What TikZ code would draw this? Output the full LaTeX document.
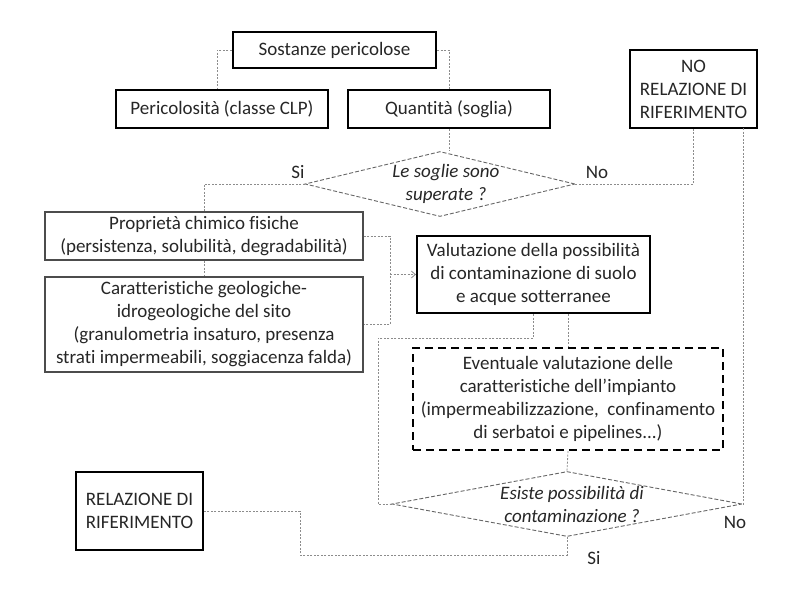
\documentclass[tikz,border=0pt]{standalone}
\usepackage{fontspec}
\setmainfont{Carlito}[Ligatures=NoCommon]
\usetikzlibrary{shapes.geometric,arrows.meta}
\begin{document}
\begin{tikzpicture}[x=1pt,y=-1pt,
  every node/.style={font=\fontsize{19}{23}\selectfont, text=black!85, align=center, inner sep=0pt},
  mainbox/.style={draw=black, line width=2.2pt, rectangle},
  greybox/.style={draw=black!70, line width=1.4pt, rectangle},
  dashbox/.style={draw=black, line width=2.2pt, rectangle, dash pattern=on 8pt off 5pt},
  dia/.style={draw=black!60, line width=0.9pt, diamond, dash pattern=on 4pt off 2pt},
  ditext/.style={font=\fontsize{19}{23}\selectfont\itshape},
  conn/.style={draw=black!45, line width=0.8pt, dash pattern=on 2pt off 1.5pt},
  lab/.style={font=\fontsize{19}{23}\selectfont}
]
\useasboundingbox (0,0) rectangle (800,590);

% boxes
\node[mainbox, minimum width=203pt, minimum height=36pt] (sost) at (334.5,50) {Sostanze pericolose};
\node[mainbox, minimum width=212pt, minimum height=38pt] (peric) at (222,109) {Pericolosità (classe CLP)};
\node[mainbox, minimum width=202pt, minimum height=38pt] (quant) at (449,109) {Quantità (soglia)};
\node[mainbox, minimum width=127pt, minimum height=78pt] (norel) at (693.5,89) {NO\\RELAZIONE DI\\RIFERIMENTO};
\node[dia, minimum width=270pt, minimum height=65pt] (d1) at (440,184) {};
\node[ditext] (d1t) at (446,184) {Le soglie sono\\superate ?};
\node[greybox, minimum width=318pt, minimum height=48pt] (prop) at (204,236) {Proprietà chimico fisiche\\(persistenza, solubilità, degradabilità)};
\node[greybox, minimum width=318pt, minimum height=95pt] (car) at (204,324.5) {Caratteristiche geologiche-\\idrogeologiche del sito\\(granulometria insaturo, presenza\\strati impermeabili, soggiacenza falda)};
\node[mainbox, minimum width=233pt, minimum height=77pt] (val) at (533.5,274.5) {Valutazione della possibilità\\di contaminazione di suolo\\e acque sotterranee};
\node[dashbox, minimum width=310pt, minimum height=102pt] (ev) at (568,399) {Eventuale valutazione delle\\caratteristiche dell’impianto\\(impermeabilizzazione,\ \ confinamento\\di serbatoi e pipelines...)};
\node[dia, minimum width=350pt, minimum height=65pt] (d2) at (567,504) {};
\node[ditext] (d2t) at (572,504) {Esiste possibilità di\\contaminazione ?};
\node[mainbox, minimum width=127pt, minimum height=78pt] (rel) at (139.5,511) {RELAZIONE DI\\RIFERIMENTO};

% labels
\node[lab] (si1) at (298,172) {Si};
\node[lab] (no1) at (597,172) {No};
\node[lab] (no2) at (735,522) {No};
\node[lab] (si2) at (594,558) {Si};

% helper coordinates
\coordinate (pl) at (217,50);
\coordinate (br1) at (390,236);
\coordinate (bm) at (390,274.5);
\coordinate (k1) at (378,338);
\coordinate (k2) at (300,555);
\coordinate (nr) at (743,128);

% connectors
\draw[conn] (sost.west) -- (pl) -- (pl |- peric.north);
\draw[conn] (sost.east) -| (quant.north);
\draw[conn] (quant.south) -- (quant.south |- d1.north);
\draw[conn] (d1.west) -| (prop.north);
\draw[conn] (d1.east) -| (norel.south);
\draw[conn] (prop.south) -- (car.north);
\draw[conn] (prop.east) -- (br1) |- (car.east);
\draw[conn, -{Straight Barb[length=4pt,width=7pt]}] (bm) -- (val.west);
\draw[conn] (val.south -| ev.north) -- (ev.north);
\draw[conn] (val.south) |- (k1) |- (d2.west);
\draw[conn] (ev.south) -- (d2.north);
\draw[conn] (nr) |- (d2.east);
\draw[conn] (d2.south) |- (k2) |- (rel.east);
\end{tikzpicture}
\end{document}
